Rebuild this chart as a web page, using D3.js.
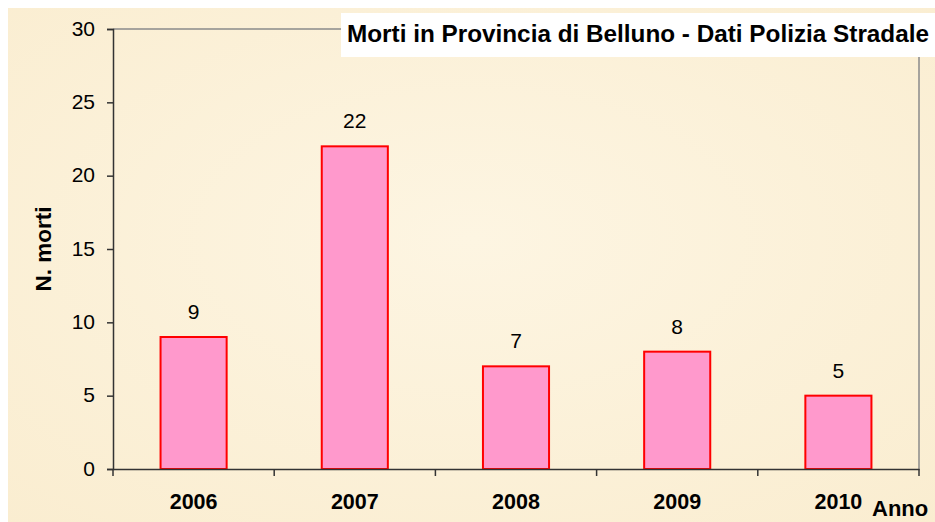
<!DOCTYPE html>
<html>
<head>
<meta charset="utf-8">
<script src="https://cdn.jsdelivr.net/npm/d3@7"></script>
<style>
  html, body { margin: 0; padding: 0; background: #fff; }
  svg { display: block; font-family: "Liberation Sans", Arial, sans-serif; }
</style>
</head>
<body>
<script>
// dati
const anni = ["2006", "2007", "2008", "2009", "2010"];
const morti = [9, 22, 7, 8, 5];
const yTicks = [0, 5, 10, 15, 20, 25, 30];
const titolo = "Morti in Provincia di Belluno - Dati Polizia Stradale";

const W = 935, H = 522;
const m = { left: 113, right: 16, top: 29, bottom: 53 };
const FONT = "Liberation Sans, Arial, sans-serif";

const svg = d3.select("body").append("svg").attr("width", W).attr("height", H);

// sfondo tipo pergamena
const defs = svg.append("defs");
const grad = defs.append("radialGradient").attr("id", "bg").attr("cx", "50%").attr("cy", "45%").attr("r", "75%");
grad.append("stop").attr("offset", "0%").attr("stop-color", "#fdf5e2");
grad.append("stop").attr("offset", "100%").attr("stop-color", "#faedd0");
svg.append("rect").attr("x", 8).attr("y", 8).attr("width", W - 8).attr("height", H - 8).attr("fill", "url(#bg)");

const x = d3.scaleBand().domain(anni).range([m.left, W - m.right]).paddingInner(0).paddingOuter(0);
const y = d3.scaleLinear().domain([0, 30]).range([H - m.bottom, m.top]);

// cornice area grafico
svg.append("path")
  .attr("d", `M${m.left},${m.top}H${W - m.right}V${H - m.bottom}`)
  .attr("fill", "none").attr("stroke", "#8a8a8a").attr("stroke-width", 1.5);

// barre
const bw = x.bandwidth() * 0.41;
svg.append("g").selectAll("rect").data(morti).join("rect")
  .attr("x", (d, i) => x(anni[i]) + (x.bandwidth() - bw) / 2)
  .attr("y", d => y(d))
  .attr("width", bw)
  .attr("height", d => y(0) - y(d))
  .attr("fill", "#ff99cc").attr("stroke", "#ff0000").attr("stroke-width", 2);

// etichette valori
svg.append("g").selectAll("text").data(morti).join("text")
  .attr("x", (d, i) => x(anni[i]) + x.bandwidth() / 2)
  .attr("y", d => y(d) - 18)
  .attr("text-anchor", "middle").attr("font-size", 21).attr("fill", "#000")
  .text(d => d);

// asse y
const yAxis = svg.append("g").attr("transform", `translate(${m.left},0)`)
  .call(d3.axisLeft(y).tickValues(yTicks).tickSize(6).tickPadding(12));
yAxis.select(".domain").attr("stroke", "#333").attr("stroke-width", 1.5);
yAxis.selectAll(".tick line").attr("stroke", "#333").attr("stroke-width", 1.5);
yAxis.selectAll("text").attr("font-size", 21).attr("fill", "#000").attr("font-family", FONT).attr("dy", "0.3em");

// asse x
const xAxis = svg.append("g").attr("transform", `translate(0,${H - m.bottom})`)
  .call(d3.axisBottom(x).tickSize(0).tickPadding(25));
xAxis.select(".domain").attr("stroke", "#333").attr("stroke-width", 1.5);
xAxis.selectAll("text").attr("font-size", 21.5).attr("font-weight", "bold").attr("fill", "#000")
  .attr("font-family", FONT);
// tacche ai confini delle categorie
const confini = anni.map(a => x(a)).concat([x(anni[anni.length - 1]) + x.bandwidth()]);
xAxis.selectAll(".sep").data(confini).join("line").attr("class", "sep")
  .attr("x1", d => d).attr("x2", d => d)
  .attr("y1", 0).attr("y2", 7).attr("stroke", "#333").attr("stroke-width", 1.5);

// titoli assi
svg.append("text").attr("transform", `translate(51,${(m.top + H - m.bottom) / 2}) rotate(-90)`)
  .attr("text-anchor", "middle").attr("font-size", 22.5).attr("font-weight", "bold").text("N. morti");
svg.append("text").attr("x", 872).attr("y", 516)
  .attr("font-size", 22).attr("font-weight", "bold").text("Anno");

// titolo
svg.append("rect").attr("x", 341).attr("y", 13).attr("width", W - 341).attr("height", 44).attr("fill", "#fff");
svg.append("text").attr("x", 347).attr("y", 42)
  .attr("font-size", 23).attr("font-weight", "bold")
  .attr("textLength", 582).attr("lengthAdjust", "spacingAndGlyphs").text(titolo);
</script>
</body>
</html>
